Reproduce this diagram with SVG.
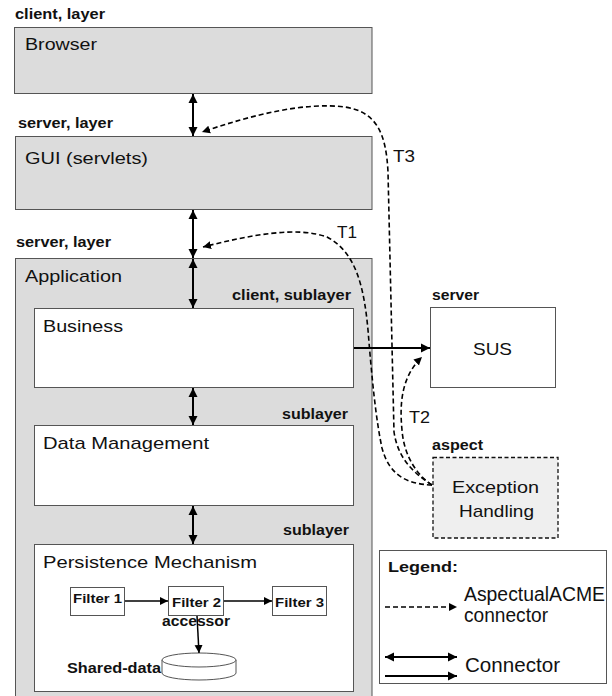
<svg xmlns="http://www.w3.org/2000/svg" width="612" height="696" viewBox="0 0 612 696">
<style>
text{font-family:"Liberation Sans",Arial,sans-serif;fill:#111}
.lb{font-weight:bold;font-size:14px}
.nm{font-size:17px}
.lg{font-size:19.5px}
.fl{font-weight:bold;font-size:13.5px}
.gray{fill:#dcdcdc;stroke:#555;stroke-width:1}
.white{fill:#fff;stroke:#555;stroke-width:1}
.sol{fill:none;stroke:#000;stroke-width:2}
.dash{fill:none;stroke:#000;stroke-width:1.6;stroke-dasharray:5,3}
</style>
<defs>
<marker id="ah" markerUnits="userSpaceOnUse" markerWidth="10" markerHeight="10" refX="9" refY="5" orient="auto-start-reverse" viewBox="0 0 10 10">
<path d="M0,0.5 L9,5 L0,9.5 z" fill="#000"/>
</marker>
<marker id="ahs" markerUnits="userSpaceOnUse" markerWidth="9" markerHeight="9" refX="8" refY="4" orient="auto" viewBox="0 0 9 8">
<path d="M0,0 L8,4 L0,8 z" fill="#000"/>
</marker>
</defs>
<rect width="612" height="696" fill="#fff"/>

<g id="browser">
<text class="lb" x="15" y="19" textLength="90" lengthAdjust="spacingAndGlyphs">client, layer</text>
<rect class="gray" x="14.5" y="27.5" width="357.5" height="66"/>
<text class="nm" x="25" y="50" textLength="72" lengthAdjust="spacingAndGlyphs">Browser</text>
</g>

<g id="gui">
<text class="lb" x="18" y="128" textLength="95" lengthAdjust="spacingAndGlyphs">server, layer</text>
<rect class="gray" x="15.5" y="136.5" width="356.5" height="73"/>
<text class="nm" x="25" y="164" textLength="123" lengthAdjust="spacingAndGlyphs">GUI (servlets)</text>
</g>

<g id="application">
<text class="lb" x="16" y="247" textLength="95" lengthAdjust="spacingAndGlyphs">server, layer</text>
<rect class="gray" x="15.5" y="258.5" width="356.5" height="440"/>
<text class="nm" x="25" y="282" textLength="97" lengthAdjust="spacingAndGlyphs">Application</text>
</g>

<g id="business">
<text class="lb" x="232" y="300" textLength="119" lengthAdjust="spacingAndGlyphs">client, sublayer</text>
<rect class="white" x="34.5" y="308.5" width="319" height="79"/>
<text class="nm" x="43" y="332" textLength="80" lengthAdjust="spacingAndGlyphs">Business</text>
</g>

<g id="datamanagement">
<text class="lb" x="282" y="419" textLength="66" lengthAdjust="spacingAndGlyphs">sublayer</text>
<rect class="white" x="34.5" y="425.5" width="319" height="80"/>
<text class="nm" x="43" y="449" textLength="166" lengthAdjust="spacingAndGlyphs">Data Management</text>
</g>

<g id="persistence">
<text class="lb" x="283" y="535" textLength="66" lengthAdjust="spacingAndGlyphs">sublayer</text>
<rect class="white" x="34.5" y="544.5" width="319" height="147"/>
<text class="nm" x="43" y="568" textLength="214" lengthAdjust="spacingAndGlyphs">Persistence Mechanism</text>
</g>

<g id="filter1">
<rect class="white" x="70.5" y="587.5" width="54" height="28"/>
<text class="fl" x="73" y="603" textLength="49" lengthAdjust="spacingAndGlyphs">Filter 1</text>
</g>
<g id="filter2">
<rect class="white" x="168.5" y="586.5" width="55" height="29"/>
<text class="fl" x="172" y="607" textLength="49" lengthAdjust="spacingAndGlyphs">Filter 2</text>
<text class="fl" x="162" y="626" textLength="68" lengthAdjust="spacingAndGlyphs" style="font-size:14px">accessor</text>
</g>
<g id="filter3">
<rect class="white" x="272.5" y="586.5" width="54" height="29"/>
<text class="fl" x="275" y="607" textLength="49" lengthAdjust="spacingAndGlyphs">Filter 3</text>
</g>

<g id="shareddata">
<path d="M162,660 L162,673 A37,7 0 0 0 236,673 L236,660" fill="#fff" stroke="#555" stroke-width="1"/>
<ellipse cx="199" cy="660" rx="37" ry="7" fill="#fff" stroke="#555" stroke-width="1"/>
<text class="lb" x="67" y="673" textLength="94" lengthAdjust="spacingAndGlyphs">Shared-data</text>
</g>

<g id="sus">
<text class="lb" x="432" y="300" textLength="47" lengthAdjust="spacingAndGlyphs">server</text>
<rect class="white" x="430.5" y="307.5" width="125" height="80"/>
<text class="nm" x="473" y="355" textLength="39" lengthAdjust="spacingAndGlyphs">SUS</text>
</g>

<g id="exception">
<text class="lb" x="432" y="450" textLength="51" lengthAdjust="spacingAndGlyphs">aspect</text>
<rect x="433" y="457.5" width="125" height="80.5" fill="#efefef" stroke="#111" stroke-width="1.3" stroke-dasharray="4,2.5"/>
<text class="nm" x="452" y="493" textLength="87" lengthAdjust="spacingAndGlyphs">Exception</text>
<text class="nm" x="459" y="517" textLength="75" lengthAdjust="spacingAndGlyphs">Handling</text>
</g>

<g id="legend">
<rect class="white" x="379.5" y="550.5" width="227" height="133"/>
<text class="lb" x="388" y="572" textLength="70" lengthAdjust="spacingAndGlyphs" style="font-size:15px">Legend:</text>
<line class="dash" x1="385" y1="607" x2="457" y2="607" marker-end="url(#ahs)"/>
<text class="lg" x="464" y="601" textLength="141" lengthAdjust="spacingAndGlyphs">AspectualACME</text>
<text class="lg" x="464" y="622" textLength="84" lengthAdjust="spacingAndGlyphs">connector</text>
<line class="sol" x1="385" y1="657" x2="457" y2="657" marker-start="url(#ah)" marker-end="url(#ah)"/>
<line class="sol" x1="385" y1="676" x2="457" y2="676" marker-end="url(#ah)"/>
<text class="lg" x="465" y="672" textLength="95" lengthAdjust="spacingAndGlyphs">Connector</text>
</g>

<g id="connectors">
<line class="sol" x1="193" y1="94" x2="193" y2="136" marker-start="url(#ah)" marker-end="url(#ah)"/>
<line class="sol" x1="193" y1="210" x2="193" y2="258" marker-start="url(#ah)" marker-end="url(#ah)"/>
<line class="sol" x1="193" y1="259" x2="193" y2="308" marker-start="url(#ah)" marker-end="url(#ah)"/>
<line class="sol" x1="193" y1="388" x2="193" y2="425" marker-start="url(#ah)" marker-end="url(#ah)"/>
<line class="sol" x1="193" y1="506" x2="193" y2="544" marker-start="url(#ah)" marker-end="url(#ah)"/>
<line class="sol" x1="354" y1="348" x2="430" y2="348" marker-end="url(#ah)"/>
<line x1="125" y1="601" x2="168" y2="601" stroke="#000" stroke-width="1.5" marker-end="url(#ahs)"/>
<line x1="224" y1="601" x2="272" y2="601" stroke="#000" stroke-width="1.5" marker-end="url(#ahs)"/>
<line x1="197" y1="616" x2="199" y2="653" stroke="#000" stroke-width="1.5" marker-end="url(#ahs)"/>
<path class="dash" d="M432,485 C412,472 398,458 394,432 L388,172 C386,132 376,112 345,107 C305,102 255,114 202,132" marker-end="url(#ahs)"/>
<path class="dash" d="M432,485 C405,484 389,474 382,448 C376,420 372,380 368,330 C364,287 356,252 327,237 C297,226 250,235 203,247" marker-end="url(#ahs)"/>
<path class="dash" d="M432,485 C418,476 404,457 402,430 C399,400 403,375 422,357" marker-end="url(#ahs)"/>
<text class="nm" x="393" y="162" textLength="22" lengthAdjust="spacingAndGlyphs">T3</text>
<text class="nm" x="337" y="238" textLength="20" lengthAdjust="spacingAndGlyphs">T1</text>
<text class="nm" x="409" y="423" textLength="21" lengthAdjust="spacingAndGlyphs">T2</text>
</g>
</svg>
